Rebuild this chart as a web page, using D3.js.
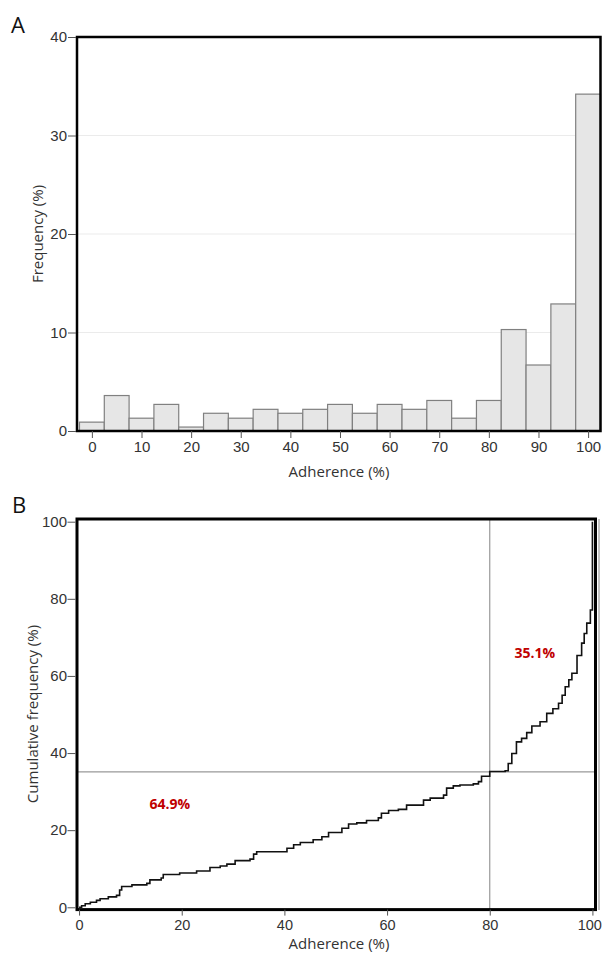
<!DOCTYPE html>
<html>
<head>
<meta charset="utf-8">
<script src="https://cdn.jsdelivr.net/npm/d3@7"></script>
<style>
  body { margin: 0; background: #fff; }
  svg { display: block; font-family: "Open Sans", sans-serif; }
</style>
</head>
<body>
<div id="chart"></div>
<script>
// Panel A - histogram (bin centres, frequency %)
const binCenters = [0, 5, 10, 15, 20, 25, 30, 35, 40, 45, 50, 55, 60, 65, 70, 75, 80, 85, 90, 95, 100];
const binFreq = [0.9, 3.6, 1.3, 2.7, 0.4, 1.8, 1.3, 2.2, 1.8, 2.2, 2.7, 1.8, 2.7, 2.2, 3.1, 1.3, 3.1, 10.3, 6.7, 12.9, 34.2];
const histYTicks = [0, 10, 20, 30, 40];
const histXTicks = [0, 10, 20, 30, 40, 50, 60, 70, 80, 90, 100];

// Panel B - cumulative frequency, step points
const ecdfX = [0, 0.5, 1.2, 2.2, 3.4, 4.1, 5.7, 7.3, 7.9, 8.3, 10.3, 13.2, 13.8, 16.0, 16.4, 19.6, 22.9, 25.5, 27.5, 28.8,
  30.4, 33.3, 34.0, 34.6, 40.5, 41.8, 43.1, 45.6, 47.3, 48.6, 51.2, 52.5, 54.1, 56.0, 58.3, 58.9, 60.3, 62.2, 63.8, 67.1,
  68.4, 71.0, 71.6, 72.9, 74.2, 76.8, 77.8, 78.4, 80.0, 83.0, 83.6, 84.3, 85.2, 86.2, 87.2, 88.2, 89.8, 91.1, 92.3, 93.4,
  94.1, 94.7, 95.4, 96.0, 97.0, 97.9, 98.4, 98.9, 99.6, 100, 100];
const ecdfY = [0, 0.4, 0.9, 1.3, 1.8, 2.2, 2.7, 3.1, 4.5, 5.4, 5.8, 6.2, 7.1, 7.6, 8.5, 8.9, 9.4, 10.3, 10.7, 11.2,
  12.1, 12.5, 13.8, 14.4, 15.3, 16.2, 16.8, 17.5, 18.3, 19.4, 20.5, 21.6, 21.9, 22.5, 23.2, 24.4, 25.1, 25.4, 26.5, 27.8,
  28.3, 29.1, 30.9, 31.5, 31.7, 32.0, 32.6, 34.0, 35.2, 35.4, 37.3, 39.9, 42.9, 43.8, 45.3, 47.0, 48.1, 50.3, 51.5, 52.9,
  55.0, 57.2, 59.0, 60.7, 65.3, 68.5, 71.0, 73.7, 77.1, 80.7, 100];
const cdfYTicks = [0, 20, 40, 60, 80, 100];
const cdfXTicks = [0, 20, 40, 60, 80, 100];
const cutX = 80, cutY = 35.1;
const labelBelow = '64.9%', labelAbove = '35.1%';

const width = 603, height = 954;
const svg = d3.select('#chart').append('svg')
  .attr('width', width)
  .attr('height', height);

const textColor = '#333333';

function styleAxis(g, size) {
  g.select('.domain').remove();
  g.selectAll('.tick line').attr('stroke', '#555');
  g.selectAll('.tick text').attr('fill', textColor).style('font-size', size + 'px');
}

// ===== Panel A =====
const xA = d3.scaleLinear().domain([-3, 102.5]).range([77, 600.5]);
const yA = d3.scaleLinear().domain([0, 40]).range([431, 37]);

svg.append('g').selectAll('line')
  .data([10, 20, 30])
  .enter().append('line')
  .attr('x1', xA.range()[0]).attr('x2', xA.range()[1])
  .attr('y1', d => yA(d)).attr('y2', d => yA(d))
  .attr('stroke', '#ebebeb').attr('stroke-width', 1);

svg.append('g').selectAll('rect')
  .data(binCenters)
  .enter().append('rect')
  .attr('x', d => xA(d - 2.5))
  .attr('width', d => Math.min(xA(d + 2.5), xA.range()[1]) - xA(d - 2.5))
  .attr('y', (d, i) => yA(binFreq[i]))
  .attr('height', (d, i) => yA(0) - yA(binFreq[i]))
  .attr('fill', '#e6e6e6')
  .attr('stroke', '#808080')
  .attr('stroke-width', 1.2);

svg.append('rect')
  .attr('x', 77).attr('y', 37)
  .attr('width', 600.5 - 77).attr('height', 431 - 37)
  .attr('fill', 'none').attr('stroke', '#000').attr('stroke-width', 2.5);

svg.append('g')
  .attr('transform', 'translate(77,0)')
  .call(d3.axisLeft(yA).tickValues(histYTicks).tickSize(8).tickPadding(2))
  .call(g => styleAxis(g, 15))
  .call(g => g.selectAll('.tick line').attr('transform', 'translate(-1,0)'));

svg.append('g')
  .attr('transform', 'translate(0,431)')
  .call(d3.axisBottom(xA).tickValues(histXTicks).tickSize(7).tickPadding(3))
  .call(g => styleAxis(g, 15));

svg.append('text')
  .attr('transform', 'translate(43,234) rotate(-90)')
  .attr('text-anchor', 'middle')
  .attr('fill', textColor)
  .style('font-size', '15px')
  .text('Frequency (%)');

svg.append('text')
  .attr('x', 339).attr('y', 477)
  .attr('text-anchor', 'middle')
  .attr('fill', textColor)
  .style('font-size', '15px')
  .text('Adherence (%)');

svg.append('text')
  .attr('x', 11).attr('y', 33)
  .attr('fill', '#111')
  .style('font-size', '22px')
  .text('A');

// ===== Panel B =====
const xB = d3.scaleLinear().domain([-0.4, 100.6]).range([77, 595.5]);
const yB = d3.scaleLinear().domain([-0.6, 100.7]).range([909.6, 519]);

// reference lines
svg.append('line')
  .attr('x1', xB(cutX)).attr('x2', xB(cutX))
  .attr('y1', yB.range()[1]).attr('y2', yB.range()[0])
  .attr('stroke', '#999').attr('stroke-width', 1.2);
svg.append('line')
  .attr('x1', xB.range()[0]).attr('x2', xB.range()[1])
  .attr('y1', yB(cutY)).attr('y2', yB(cutY))
  .attr('stroke', '#999').attr('stroke-width', 1.2);

const ecdf = ecdfX.map((x, i) => [x, ecdfY[i]]);
const line = d3.line()
  .x(d => xB(d[0]))
  .y(d => yB(d[1]))
  .curve(d3.curveStepAfter);

svg.append('path')
  .datum(ecdf)
  .attr('d', line)
  .attr('fill', 'none')
  .attr('stroke', '#111')
  .attr('stroke-width', 1.6);

svg.append('rect')
  .attr('x', 77).attr('y', 519)
  .attr('width', 595.5 - 77).attr('height', 909.6 - 519)
  .attr('fill', 'none').attr('stroke', '#000').attr('stroke-width', 3);

svg.append('line')
  .attr('x1', 599).attr('x2', 599)
  .attr('y1', 519).attr('y2', 910)
  .attr('stroke', '#888').attr('stroke-width', 1);

svg.append('g')
  .attr('transform', 'translate(77,0)')
  .call(d3.axisLeft(yB).tickValues(cdfYTicks).tickSize(8).tickPadding(2))
  .call(g => styleAxis(g, 15))
  .call(g => g.selectAll('.tick line').attr('transform', 'translate(-1.5,0)'));

svg.append('g')
  .attr('transform', 'translate(0,909.6)')
  .call(d3.axisBottom(xB).tickValues(cdfXTicks).tickSize(6).tickPadding(4))
  .call(g => styleAxis(g, 14.5))
  // last label sits flush with the right edge, as in the reference
  .call(g => g.selectAll('.tick text').filter(d => d === 100)
    .attr('text-anchor', 'end').attr('x', 9));

svg.append('text')
  .attr('transform', 'translate(38,714) rotate(-90)')
  .attr('text-anchor', 'middle')
  .attr('fill', textColor)
  .style('font-size', '15px')
  .text('Cumulative frequency (%)');

svg.append('text')
  .attr('x', 339).attr('y', 949)
  .attr('text-anchor', 'middle')
  .attr('fill', textColor)
  .style('font-size', '15px')
  .text('Adherence (%)');

svg.append('text')
  .attr('x', 12).attr('y', 513)
  .attr('fill', '#111')
  .style('font-size', '22px')
  .text('B');

svg.append('text')
  .attr('x', xB(17.7)).attr('y', 809)
  .attr('text-anchor', 'middle')
  .attr('fill', '#c00000')
  .style('font-size', '14px').style('font-weight', 'bold')
  .text(labelBelow);

svg.append('text')
  .attr('x', xB(88.8)).attr('y', 658)
  .attr('text-anchor', 'middle')
  .attr('fill', '#c00000')
  .style('font-size', '14px').style('font-weight', 'bold')
  .text(labelAbove);
</script>
</body>
</html>
